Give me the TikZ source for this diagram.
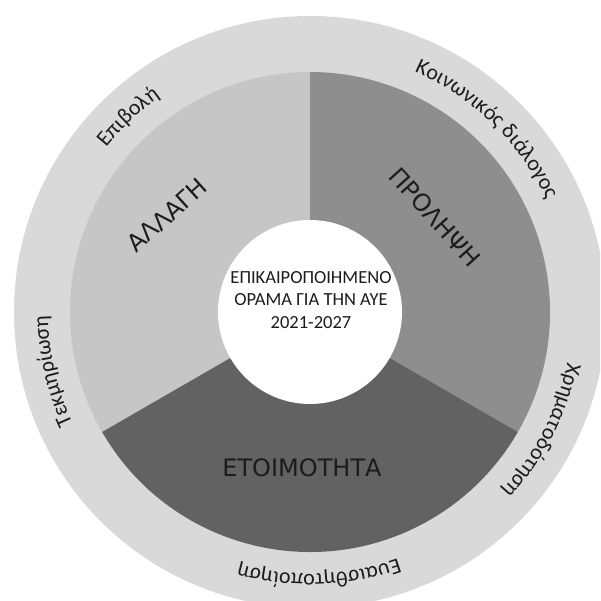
\documentclass[tikz,border=0pt]{standalone}
\usepackage{fontspec}
\setmainfont{Carlito}
\newfontfamily\bigfont{DejaVu Sans}
\usetikzlibrary{decorations.text}
\definecolor{ringgray}{HTML}{D9D9D9}
\definecolor{changegray}{HTML}{C6C6C6}
\definecolor{preventgray}{HTML}{8E8E8E}
\definecolor{readygray}{HTML}{626262}
\definecolor{textgray}{HTML}{1C1C1C}
\newcommand{\ringfont}{\fontsize{22}{26}\selectfont}
\tikzset{
  biglabel/.style={font=\bigfont\fontsize{24}{28}\selectfont, text=textgray},
  ringlabel/.style={decorate, decoration={text along path, text align=center, text color=textgray}},
}
\begin{document}
\begin{tikzpicture}[x=1pt,y=1pt]
	\clip (-310,-289) rectangle (290,312);
	\fill[white] (-310,-289) rectangle (290,312);
	\coordinate (O) at (0,0);
	% ring and sectors
	\fill[ringgray] (O) circle[radius=296];
	\fill[changegray] (O) -- (90:240) arc[start angle=90,end angle=210,radius=240] -- cycle;
	\fill[preventgray] (O) -- (-30:240) arc[start angle=-30,end angle=90,radius=240] -- cycle;
	\fill[readygray] (O) -- (210:240) arc[start angle=210,end angle=330,radius=240] -- cycle;
	\fill[white] (O) circle[radius=92];
	% sector labels
	\node[biglabel, rotate=42] (change) at (-143,97) {ΑΛΛΑΓΗ};
	\node[biglabel, rotate=-48] (prevent) at (125,95) {ΠΡΟΛΗΨΗ};
	\node[biglabel] (ready) at (-8,-156) {ΕΤΟΙΜΟΤΗΤΑ};
	\node[font=\fontsize{18.5}{22.5}\selectfont, text=textgray, align=center] (vision) at (1,12) {ΕΠΙΚΑΙΡΟΠΟΙΗΜΕΝΟ\\ΟΡΑΜΑ ΓΙΑ ΤΗΝ ΑΥΕ\\2021-2027};
	% ring labels
	\path[ringlabel, decoration={text={|\ringfont|Επιβολή}}] (178:262) arc[start angle=178,end angle=88,radius=262];
	\path[ringlabel, decoration={text={|\ringfont|Κοινωνικός διάλογος}}] (91:262) arc[start angle=91,end angle=1,radius=262];
	\path[ringlabel, decoration={text={|\ringfont|Χρηματοδότηση}}] (18:262) arc[start angle=18,end angle=-72,radius=262];
	\path[ringlabel, decoration={text={|\ringfont|Ευαισθητοποίηση}}] (-43:262) arc[start angle=-43,end angle=-133,radius=262];
	\path[ringlabel, decoration={text={|\ringfont|Τεκμηρίωση}}] (238:262) arc[start angle=238,end angle=148,radius=262];
\end{tikzpicture}
\end{document}
